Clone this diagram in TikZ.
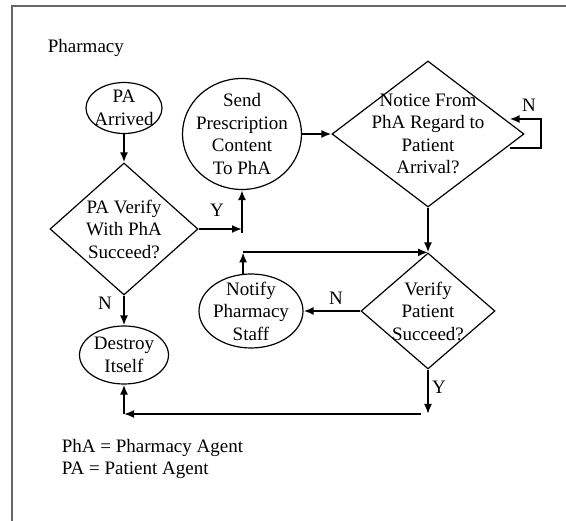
\documentclass[tikz,border=0pt]{standalone}
\usepackage{fontspec}
\setmainfont{Liberation Serif}
\usetikzlibrary{arrows,arrows.meta,calc,positioning,shapes.geometric}
\tikzstyle{oval}=[draw,ellipse,line width=1.2pt,align=center,inner sep=-30pt]
\tikzstyle{dec}=[draw,diamond,line width=1.2pt,align=center,inner sep=-30pt]
\tikzstyle{lbl}=[inner sep=0pt]

\begin{document}
\begin{tikzpicture}[
      x=1pt,y=-1pt,
      >={Latex[length=10pt,width=8pt]},
      line width=1.8pt,
      font=\fontsize{19}{22.5}\selectfont
    ]
      \useasboundingbox (0,0) rectangle (566,521);
      \draw[black!60,line width=2pt] (12,521) -- (12,6) -- (566,6);
      \node [lbl,anchor=base west] (ttl) at (47,53) {Pharmacy};

      \node [oval,minimum width=76pt,minimum height=51pt] (arr) at (124,108) {PA\\Arrived};
      \node [dec,minimum width=148pt,minimum height=132pt] (pav) [node distance=121pt,below of=arr] {PA Verify\\With PhA\\Succeed?};
      \node [oval,minimum width=89pt,minimum height=58pt] (des) [node distance=126pt,below of=pav] {Destroy\\Itself};

      \node [oval,minimum width=119pt,minimum height=111pt] (snd) at (242,134) {Send\\Prescription\\Content\\To PhA};
      \node [dec,minimum width=192pt,minimum height=146pt] (ntc) [node distance=186pt,right of=snd] {Notice From\\PhA Regard to\\Patient\\Arrival?};
      \node [dec,minimum width=134pt,minimum height=116pt] (ver) [node distance=177pt,below of=ntc] {Verify\\Patient\\Succeed?};
      \node [oval,minimum width=104pt,minimum height=74pt] (nfy) at (251,311) {Notify\\Pharmacy\\Staff};

      \coordinate (yt) at (pav.east -| snd.south);
      \coordinate (yu) at ($(yt)+(0,4)$);
      \coordinate (jn) at (nfy.102 |- ver.north);
      \coordinate (yb) at (428,414);
      \coordinate (yl) at ($(yb)+(-7,0)$);
      \coordinate (db) at (des.south |- yb);

      \draw[->] (arr) -- (pav);
      \draw[->] (pav.east) -- (yt);
      \draw[->] (yu) -- (snd.south);
      \draw[->] (snd.east) -- (ntc.west);
      \draw[->] ($(ntc.east)+(-15,14)$) -- ++(31,0) |- ($(ntc.east)+(-15,-15)$);
      \draw[->] (ntc) -- (ver);
      \draw[->] (ver) -- (nfy);
      \draw[->] (nfy.102) -- (jn);
      \draw[->] (jn) -- (ver.north);
      \draw[->] (ver) -- (yb);
      \draw[->] (yl) -- (db);
      \draw[->] (db) -- (des);
      \draw[->] (pav) -- (des);

      \node [lbl] (ly1) at (217,210) {Y};
      \node [lbl] (ln1) at (529,105) {N};
      \node [lbl] (ln2) at (336,298) {N};
      \node [lbl] (ly2) at (439,387) {Y};
      \node [lbl] (ln3) at (105,303) {N};

      \node [lbl,anchor=base west] (lga) at (61,453) {PhA = Pharmacy Agent};
      \node [lbl,anchor=base west] (lgb) at (61,475) {PA = Patient Agent};
\end{tikzpicture}
\end{document}
